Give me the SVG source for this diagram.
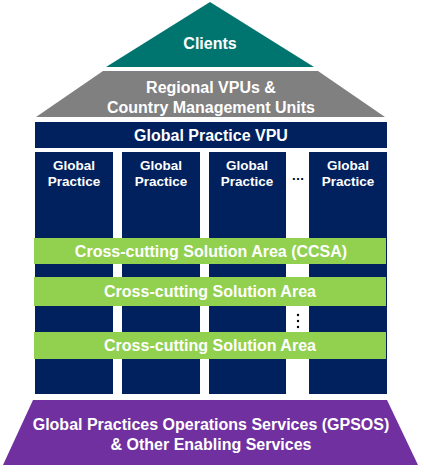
<svg xmlns="http://www.w3.org/2000/svg" width="424" height="473" viewBox="0 0 424 473">
<style>
text{font-family:"Liberation Sans",Arial,sans-serif;font-weight:bold;fill:#fff;text-anchor:middle}
.t{font-size:16px}
.c{font-size:13.5px}
.navy{fill:#00215d}
.green{fill:#92d050}
</style>
<rect width="424" height="473" fill="#fff"/>
<g id="clients">
<polygon points="210,2 314,67 106,67" fill="#007570"/>
<text class="t" x="210" y="49">Clients</text>
</g>
<g id="regional">
<polygon points="103,71 318,71 385,117 36,117" fill="#808080"/>
<text class="t" x="211" y="93">Regional VPUs &amp;</text>
<text class="t" x="211" y="113">Country Management Units</text>
</g>
<g id="gpvpu">
<rect class="navy" x="35" y="122" width="352" height="26"/>
<text class="t" x="211" y="141">Global Practice VPU</text>
</g>
<g id="gp1">
<rect class="navy" x="35" y="152" width="78" height="242"/>
<text class="c" x="74" y="170">Global</text>
<text class="c" x="74" y="186">Practice</text>
</g>
<g id="gp2">
<rect class="navy" x="122" y="152" width="78" height="242"/>
<text class="c" x="161" y="170">Global</text>
<text class="c" x="161" y="186">Practice</text>
</g>
<g id="gp3">
<rect class="navy" x="209" y="152" width="77" height="242"/>
<text class="c" x="247" y="170">Global</text>
<text class="c" x="247" y="186">Practice</text>
</g>
<g id="gp4">
<rect class="navy" x="309" y="152" width="78" height="242"/>
<text class="c" x="348" y="170">Global</text>
<text class="c" x="348" y="186">Practice</text>
</g>
<g id="hdots">
<text x="298" y="180" style="fill:#000;font-size:13px">…</text>
</g>
<g id="ccsa">
<rect class="green" x="34" y="238" width="352" height="26"/>
<text class="t" x="211" y="257">Cross-cutting Solution Area (CCSA)</text>
</g>
<g id="csa1">
<rect class="green" x="34" y="277" width="352" height="29"/>
<text class="t" x="210" y="297">Cross-cutting Solution Area</text>
</g>
<g id="vdots">
<circle cx="298" cy="315" r="1.2" fill="#000"/>
<circle cx="298" cy="321" r="1.2" fill="#000"/>
<circle cx="298" cy="327" r="1.2" fill="#000"/>
</g>
<g id="csa2">
<rect class="green" x="34" y="332" width="352" height="27"/>
<text class="t" x="210" y="351">Cross-cutting Solution Area</text>
</g>
<g id="gpsos">
<polygon points="33,400 387,400 418,465 3,465" fill="#7030a0"/>
<text class="t" x="211" y="430">Global Practices Operations Services (GPSOS)</text>
<text class="t" x="211" y="450">&amp; Other Enabling Services</text>
</g>
<g id="connectors"/>
</svg>
